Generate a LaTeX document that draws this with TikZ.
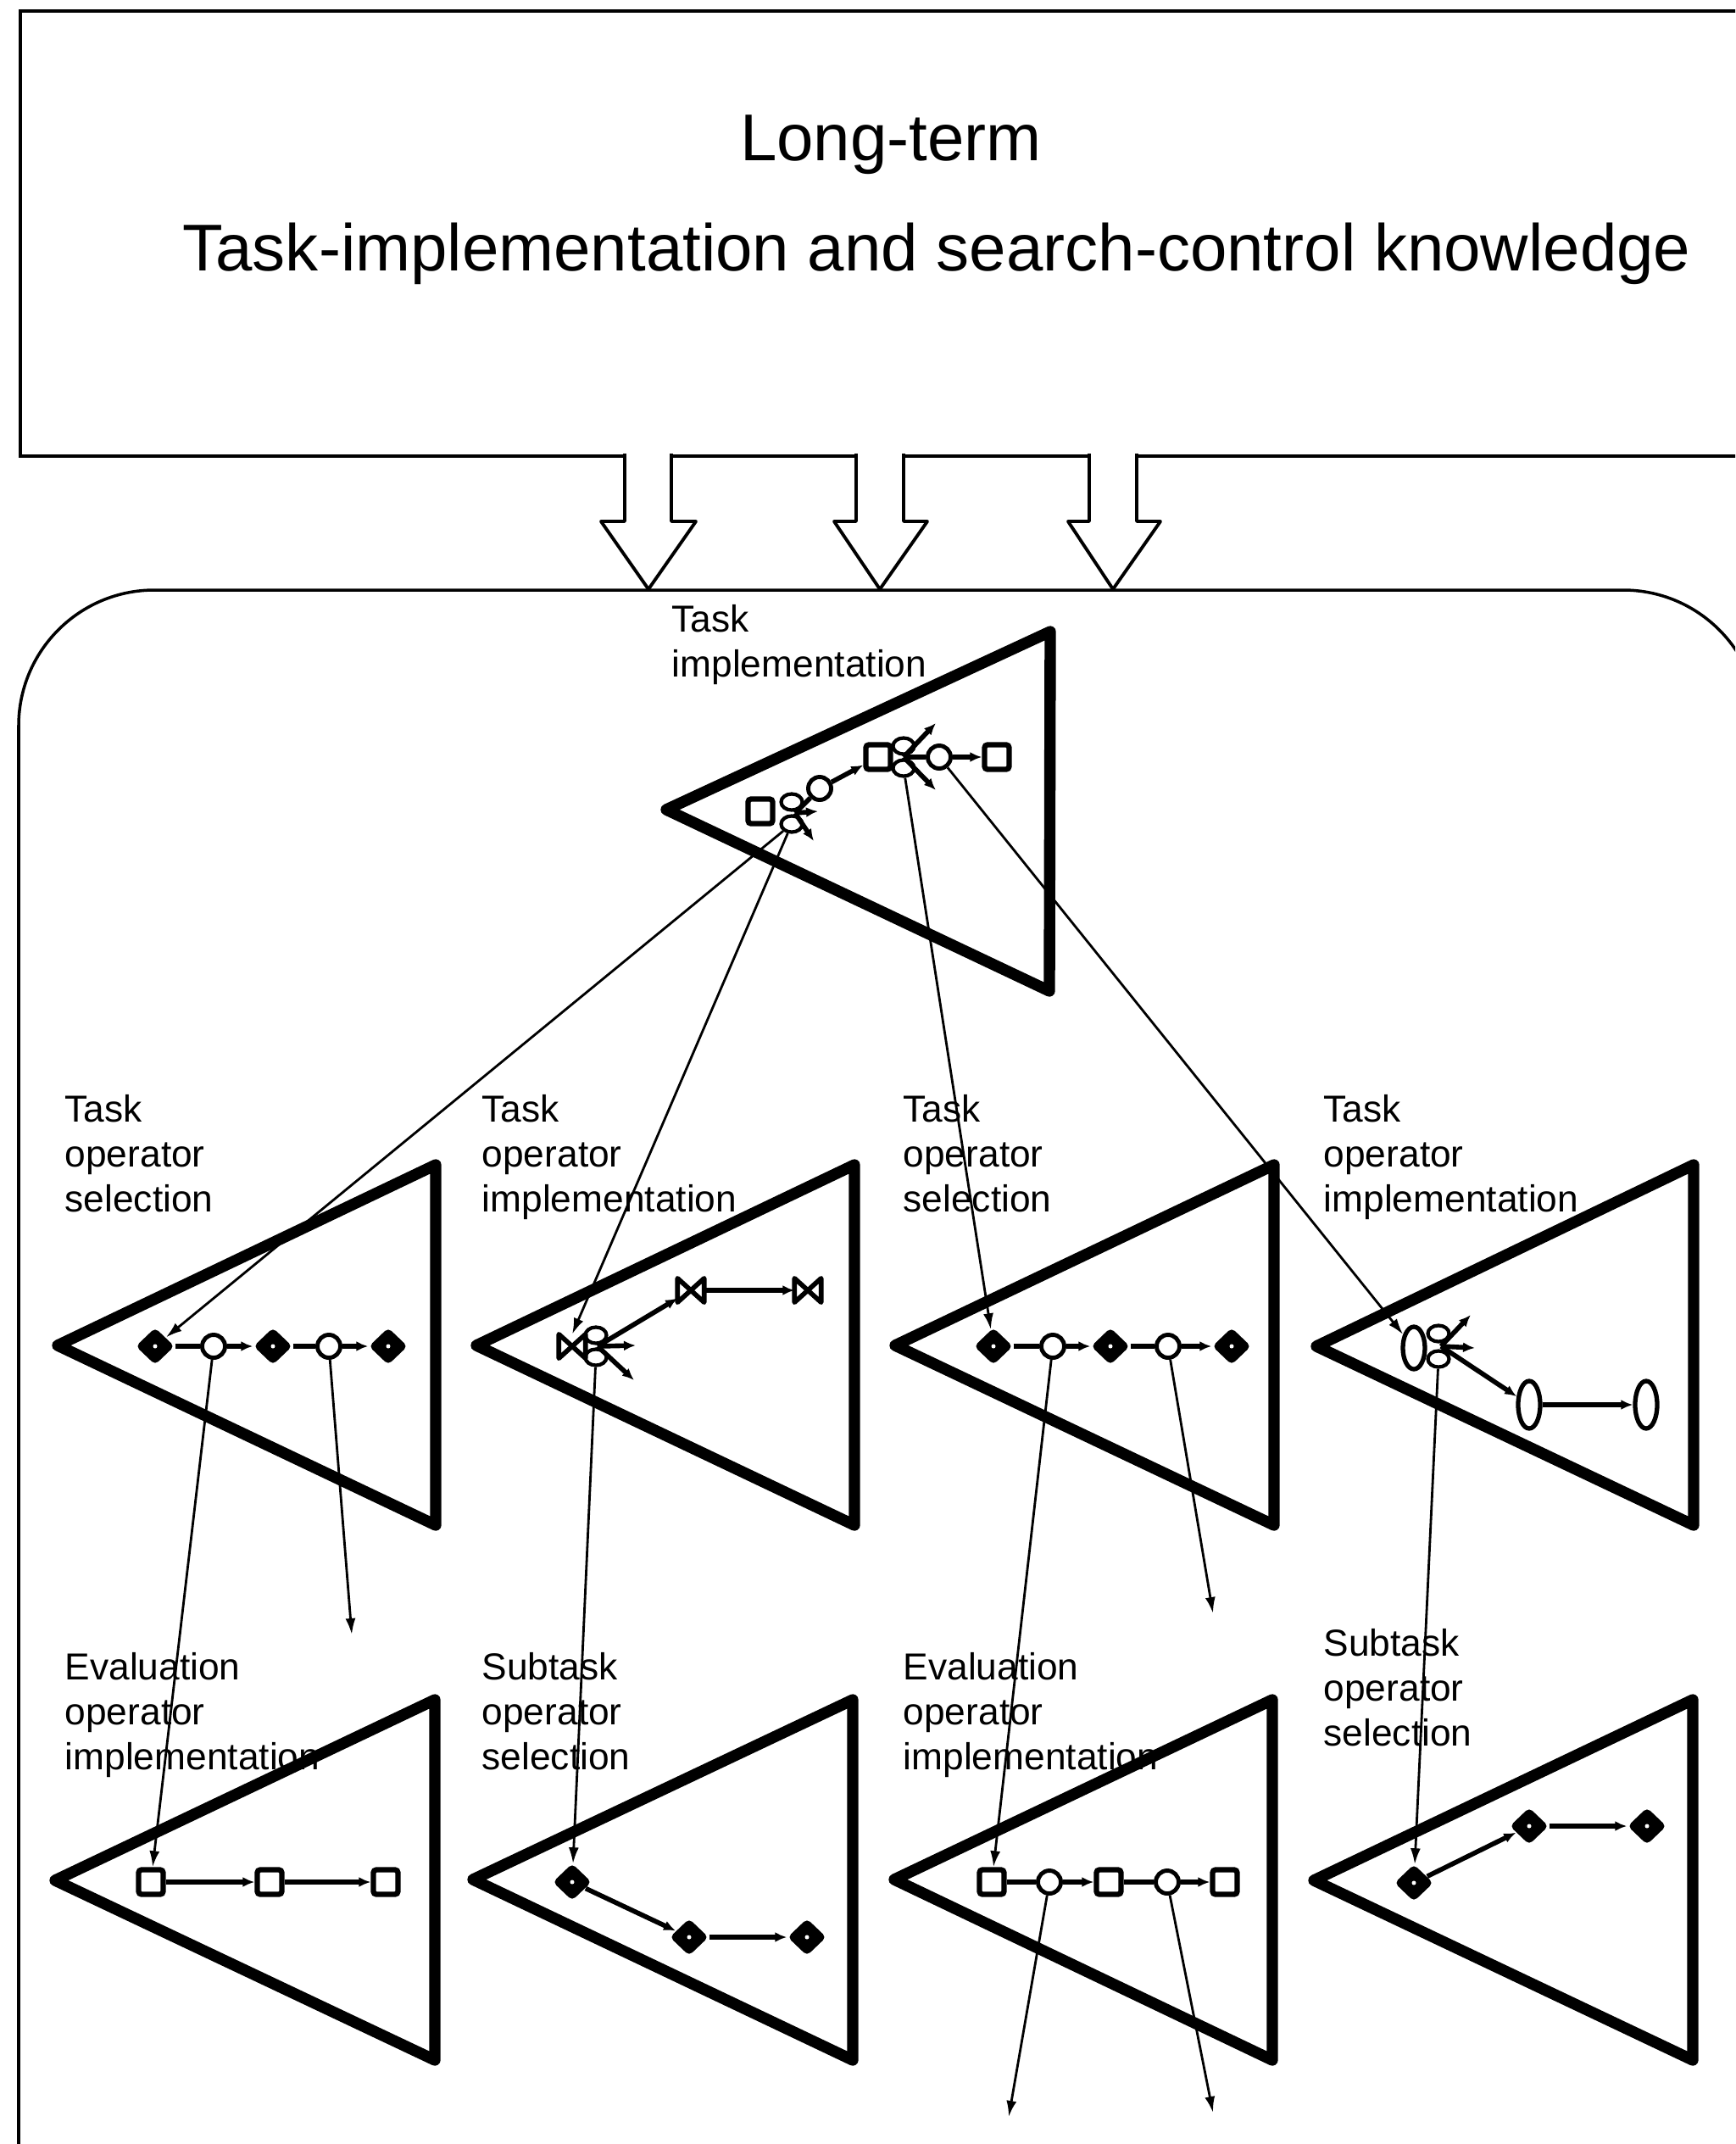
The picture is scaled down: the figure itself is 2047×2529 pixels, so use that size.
\documentclass[tikz,border=0pt]{standalone}
\usepackage{fontspec}
\setmainfont{Liberation Sans}
\usetikzlibrary{shapes.geometric,arrows.meta}

\begin{document}
\begin{tikzpicture}[x=0.01cm, y=-0.01cm,
  tri/.style={line width=3.8pt, line join=round, line cap=round},
  box/.style={line width=1pt},
  blk/.style={fill=white, line width=1.1pt, line join=round},
  sq/.style={draw, fill=white, line width=1.8pt, rounded corners=1pt, minimum size=0.29cm, inner sep=0pt},
  cir/.style={draw, fill=white, circle, line width=1.4pt, minimum size=0.27cm, inner sep=0pt},
  dia/.style={diamond, fill=black, rounded corners=1.5pt, minimum width=0.46cm, minimum height=0.44cm, inner sep=0pt,
    path picture={\fill[white] (path picture bounding box.center) circle (0.025cm);}},
  bow/.style={minimum width=0.3cm, minimum height=0.27cm, inner sep=0pt},
  ell/.style={draw, fill=white, ellipse, line width=1.5pt, minimum width=0.26cm, minimum height=0.56cm, inner sep=0pt},
  petal/.style={draw, ellipse, line width=1.2pt, minimum width=0.25cm, minimum height=0.19cm, inner sep=0pt},
  chain/.style={line width=1.6pt, -{Latex[length=0.14cm, width=0.12cm]}},
  plain/.style={line width=1.6pt},
  link/.style={line width=0.8pt, -{Latex[length=0.19cm, width=0.12cm]}},
  lab/.style={anchor=north west, inner sep=0pt, align=left, font=\fontsize{12.6}{15}\selectfont},
  title/.style={anchor=base, inner sep=0pt, font=\fontsize{22.2}{26}\selectfont}]
\useasboundingbox (0,0) rectangle (2047,2529);
\clip (0,0) rectangle (2047,2529);

\draw[box] (24,13) rectangle (2100,538);
\node[title] (LT) at (1051,189) {Long-term};
\node[title] (TK) at (1105,319) {Task-implementation and search-control knowledge};
\draw[box, rounded corners=1.6cm] (22,2600) -- (22,696) -- (2075,696) -- (2075,2600);
\filldraw[blk] (737,535) -- (737,615) -- (709,615) -- (765,695) -- (821,615) -- (792,615) -- (792,535);
\filldraw[blk] (1010,535) -- (1010,615) -- (984,615) -- (1038,695) -- (1094,615) -- (1066,615) -- (1066,535);
\filldraw[blk] (1285,535) -- (1285,615) -- (1260,615) -- (1313,695) -- (1369,615) -- (1341,615) -- (1341,535);

\node[lab] (LA) at (792,713) {Task\\implementation};
\node[lab] (LB1) at (76,1291) {Task\\operator\\selection};
\node[lab] (LB2) at (568,1291) {Task\\operator\\implementation};
\node[lab] (LB3) at (1065,1291) {Task\\operator\\selection};
\node[lab] (LB4) at (1561,1291) {Task\\operator\\implementation};
\node[lab] (LC1) at (76,1949) {Evaluation\\operator\\implementation};
\node[lab] (LC2) at (568,1949) {Subtask\\operator\\selection};
\node[lab] (LC3) at (1065,1949) {Evaluation\\operator\\implementation};
\node[lab] (LC4) at (1561,1921) {Subtask\\operator\\selection};

\draw[tri] (786,955) -- (1239,745) -- (1238,1169) -- cycle;
\draw[tri] (68,1587) -- (514,1374) -- (514,1799) -- cycle;
\draw[tri] (562,1587) -- (1008,1374) -- (1008,1799) -- cycle;
\draw[tri] (1056,1587) -- (1503,1374) -- (1503,1799) -- cycle;
\draw[tri] (1553,1588) -- (1998,1374) -- (1998,1799) -- cycle;
\draw[tri] (65,2218) -- (513,2005) -- (513,2430) -- cycle;
\draw[tri] (558,2217) -- (1006,2005) -- (1006,2430) -- cycle;
\draw[tri] (1055,2217) -- (1501,2005) -- (1501,2430) -- cycle;
\draw[tri] (1550,2218) -- (1997,2005) -- (1997,2430) -- cycle;

\node[sq] (As1) at (897,957) {};
\node[petal] (Ap1) at (934,946) {};
\node[petal] (Ap2) at (934,972) {};
\coordinate (Ak) at (938,959);
\node[cir] (Ac1) at (967,930) {};
\node[sq] (As2) at (1036,893) {};
\node[petal] (Aq1) at (1066,880) {};
\node[petal] (Aq2) at (1066,906) {};
\coordinate (Am) at (1066,893);
\node[cir] (Ac2) at (1108,893) {};
\node[sq] (As3) at (1176,893) {};
\coordinate (Ar1) at (965,957);
\coordinate (Ar2) at (960,992);
\coordinate (Ar3) at (1104,853);
\coordinate (Ar4) at (1104,932);
\draw[plain] (Ak) -- (Ac1);
\draw[chain] (Ac1) -- (As2);
\draw[chain] (Ak) -- (Ar1);
\draw[chain] (Ak) -- (Ar2);
\draw[plain] (Am) -- (Ac2);
\draw[chain] (Am) -- (Ar3);
\draw[chain] (Am) -- (Ar4);
\draw[chain] (Ac2) -- (As3);

\node[dia] (B1d1) at (183,1588) {};
\node[cir] (B1c1) at (252,1588) {};
\node[dia] (B1d2) at (322,1588) {};
\node[cir] (B1c2) at (388,1588) {};
\node[dia] (B1d3) at (458,1588) {};
\coordinate (B1x) at (415,1928);
\draw[plain] (B1d1) -- (B1c1);
\draw[chain] (B1c1) -- (B1d2);
\draw[plain] (B1d2) -- (B1c2);
\draw[chain] (B1c2) -- (B1d3);

\node[bow] (B2b1) at (675,1588) {};
\node[petal] (B2p1) at (703,1575) {};
\node[petal] (B2p2) at (703,1601) {};
\coordinate (B2k) at (705,1588);
\node[bow] (B2b2) at (815,1522) {};
\node[bow] (B2b3) at (953,1522) {};
\coordinate (B2r) at (750,1587);
\coordinate (B2q) at (748,1628);
\foreach \n in {B2b1,B2b2,B2b3}
  \draw[plain, line join=round] (\n.north west) -- (\n.south east) -- (\n.north east) -- (\n.south west) -- cycle;
\draw[chain] (B2k) -- (B2b2);
\draw[chain] (B2k) -- (B2r);
\draw[chain] (B2k) -- (B2q);
\draw[chain] (B2b2) -- (B2b3);

\node[dia] (B3d1) at (1172,1588) {};
\node[cir] (B3c1) at (1242,1588) {};
\node[dia] (B3d2) at (1310,1588) {};
\node[cir] (B3c2) at (1378,1588) {};
\node[dia] (B3d3) at (1453,1588) {};
\coordinate (B3x) at (1431,1903);
\draw[plain] (B3d1) -- (B3c1);
\draw[chain] (B3c1) -- (B3d2);
\draw[plain] (B3d2) -- (B3c2);
\draw[chain] (B3c2) -- (B3d3);

\node[ell, minimum height=0.5cm] (B4e1) at (1668,1590) {};
\node[petal] (B4p1) at (1697,1573) {};
\node[petal] (B4p2) at (1697,1603) {};
\coordinate (B4k) at (1700,1588);
\node[ell] (B4e2) at (1804,1657) {};
\node[ell] (B4e3) at (1942,1657) {};
\coordinate (B4u) at (1735,1551);
\coordinate (B4r) at (1740,1590);
\draw[chain] (B4k) -- (B4u);
\draw[chain] (B4k) -- (B4r);
\draw[chain] (B4k) -- (B4e2);
\draw[chain] (B4e2) -- (B4e3);

\node[sq] (C1s1) at (178,2220) {};
\node[sq] (C1s2) at (318,2220) {};
\node[sq] (C1s3) at (455,2220) {};
\draw[chain] (C1s1) -- (C1s2);
\draw[chain] (C1s2) -- (C1s3);

\node[dia] (C2d1) at (675,2220) {};
\node[dia] (C2d2) at (813,2285) {};
\node[dia] (C2d3) at (952,2285) {};
\draw[chain] (C2d1) -- (C2d2);
\draw[chain] (C2d2) -- (C2d3);

\node[sq] (C3s1) at (1170,2220) {};
\node[cir] (C3c1) at (1238,2220) {};
\node[sq] (C3s2) at (1308,2220) {};
\node[cir] (C3c2) at (1377,2220) {};
\node[sq] (C3s3) at (1445,2220) {};
\coordinate (C3x) at (1190,2497);
\coordinate (C3y) at (1431,2492);
\draw[plain] (C3s1) -- (C3c1);
\draw[chain] (C3c1) -- (C3s2);
\draw[plain] (C3s2) -- (C3c2);
\draw[chain] (C3c2) -- (C3s3);

\node[dia] (C4d1) at (1668,2221) {};
\node[dia] (C4d2) at (1804,2154) {};
\node[dia] (C4d3) at (1943,2154) {};
\draw[chain] (C4d1) -- (C4d2);
\draw[chain] (C4d2) -- (C4d3);

\draw[link] (Ap2) -- (B1d1);
\draw[link] (Ap2) -- (B2b1.north);
\draw[link] (Aq2) -- (B3d1);
\draw[link] (Ac2) -- (B4e1);
\draw[link] (B1c1) -- (C1s1);
\draw[link] (B1c2) -- (B1x);
\draw[link] (B2p2) -- (C2d1);
\draw[link] (B3c1) -- (C3s1);
\draw[link] (B3c2) -- (B3x);
\draw[link] (B4p2) -- (C4d1);
\draw[link] (C3c1) -- (C3x);
\draw[link] (C3c2) -- (C3y);
\end{tikzpicture}
\end{document}
